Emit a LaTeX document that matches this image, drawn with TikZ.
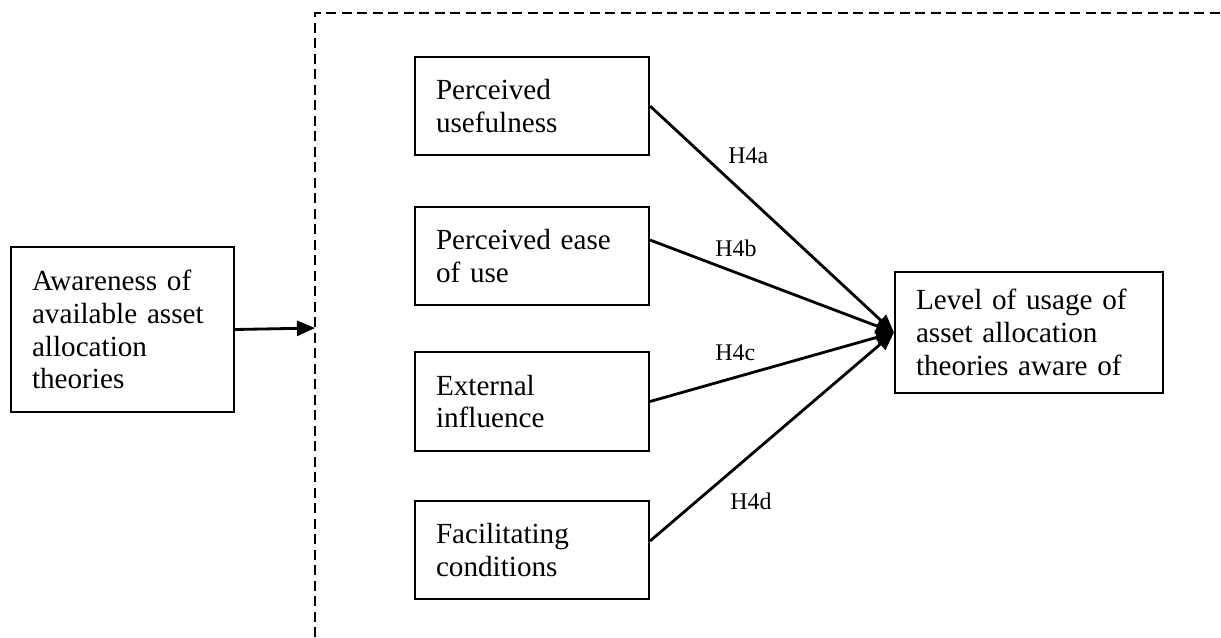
\documentclass[tikz,border=0pt]{standalone}
\usepackage{fontspec}
\setmainfont{Liberation Serif}
\usepackage{tikz}
\usetikzlibrary{arrows.meta}
\usetikzlibrary{positioning}
\tikzstyle{blk}=[draw,rectangle,line width=1.2pt,inner xsep=0.42cm,inner ysep=0pt,align=left,font=\fontsize{16.6}{18.7}\selectfont]
\tikzstyle{hyp}=[inner sep=0pt,anchor=base west,font=\fontsize{13.6}{15}\selectfont]
\tikzstyle{arr}=[line width=1.6pt,-{Triangle[length=0.36cm,width=0.3cm]}]

\begin{document}
\begin{tikzpicture}[x=0.02cm,y=-0.02cm]
\useasboundingbox (0,0) rectangle (1221,637);
\draw[line width=1.2pt,dash pattern=on 0.2cm off 0.11cm] (315,637) |- (1221,13);
\coordinate (frame) at (315,328);

\node[blk,minimum width=4.46cm,minimum height=3.3cm,text width=3.62cm] (aware) at (122.5,329.5) {Awareness of\\available asset\\allocation\\theories};
\node[blk,minimum width=4.68cm,minimum height=1.96cm,text width=3.84cm] (useful) at (532,106) {Perceived\\usefulness};
\node[blk,minimum width=4.68cm,minimum height=1.96cm,text width=3.84cm] (ease) at (532,256) {Perceived ease\\of use};
\node[blk,minimum width=4.68cm,minimum height=1.98cm,text width=3.84cm] (ext) at (532,401.5) {External\\influence};
\node[blk,minimum width=4.68cm,minimum height=1.96cm,text width=3.84cm] (facil) at (532,550) {Facilitating\\conditions};
\node[blk,minimum width=5.36cm,minimum height=2.42cm,text width=4.52cm] (level) at (1029,332.5) {Level of usage of\\asset allocation\\theories aware of};

\draw[arr] (aware.east) -- (frame);
\draw[arr] (useful.east) -- (level.west);
\draw[arr] ([yshift=0.32cm]ease.east) -- (level.west);
\draw[arr] (ext.east) -- (level.west);
\draw[arr] ([yshift=0.18cm]facil.east) -- (level.west);

\node[hyp] (h4a) at (728,163) {H4a};
\node[hyp] (h4b) at (715,256) {H4b};
\node[hyp] (h4c) at (715,360) {H4c};
\node[hyp] (h4d) at (730,509) {H4d};
\end{tikzpicture}
\end{document}
